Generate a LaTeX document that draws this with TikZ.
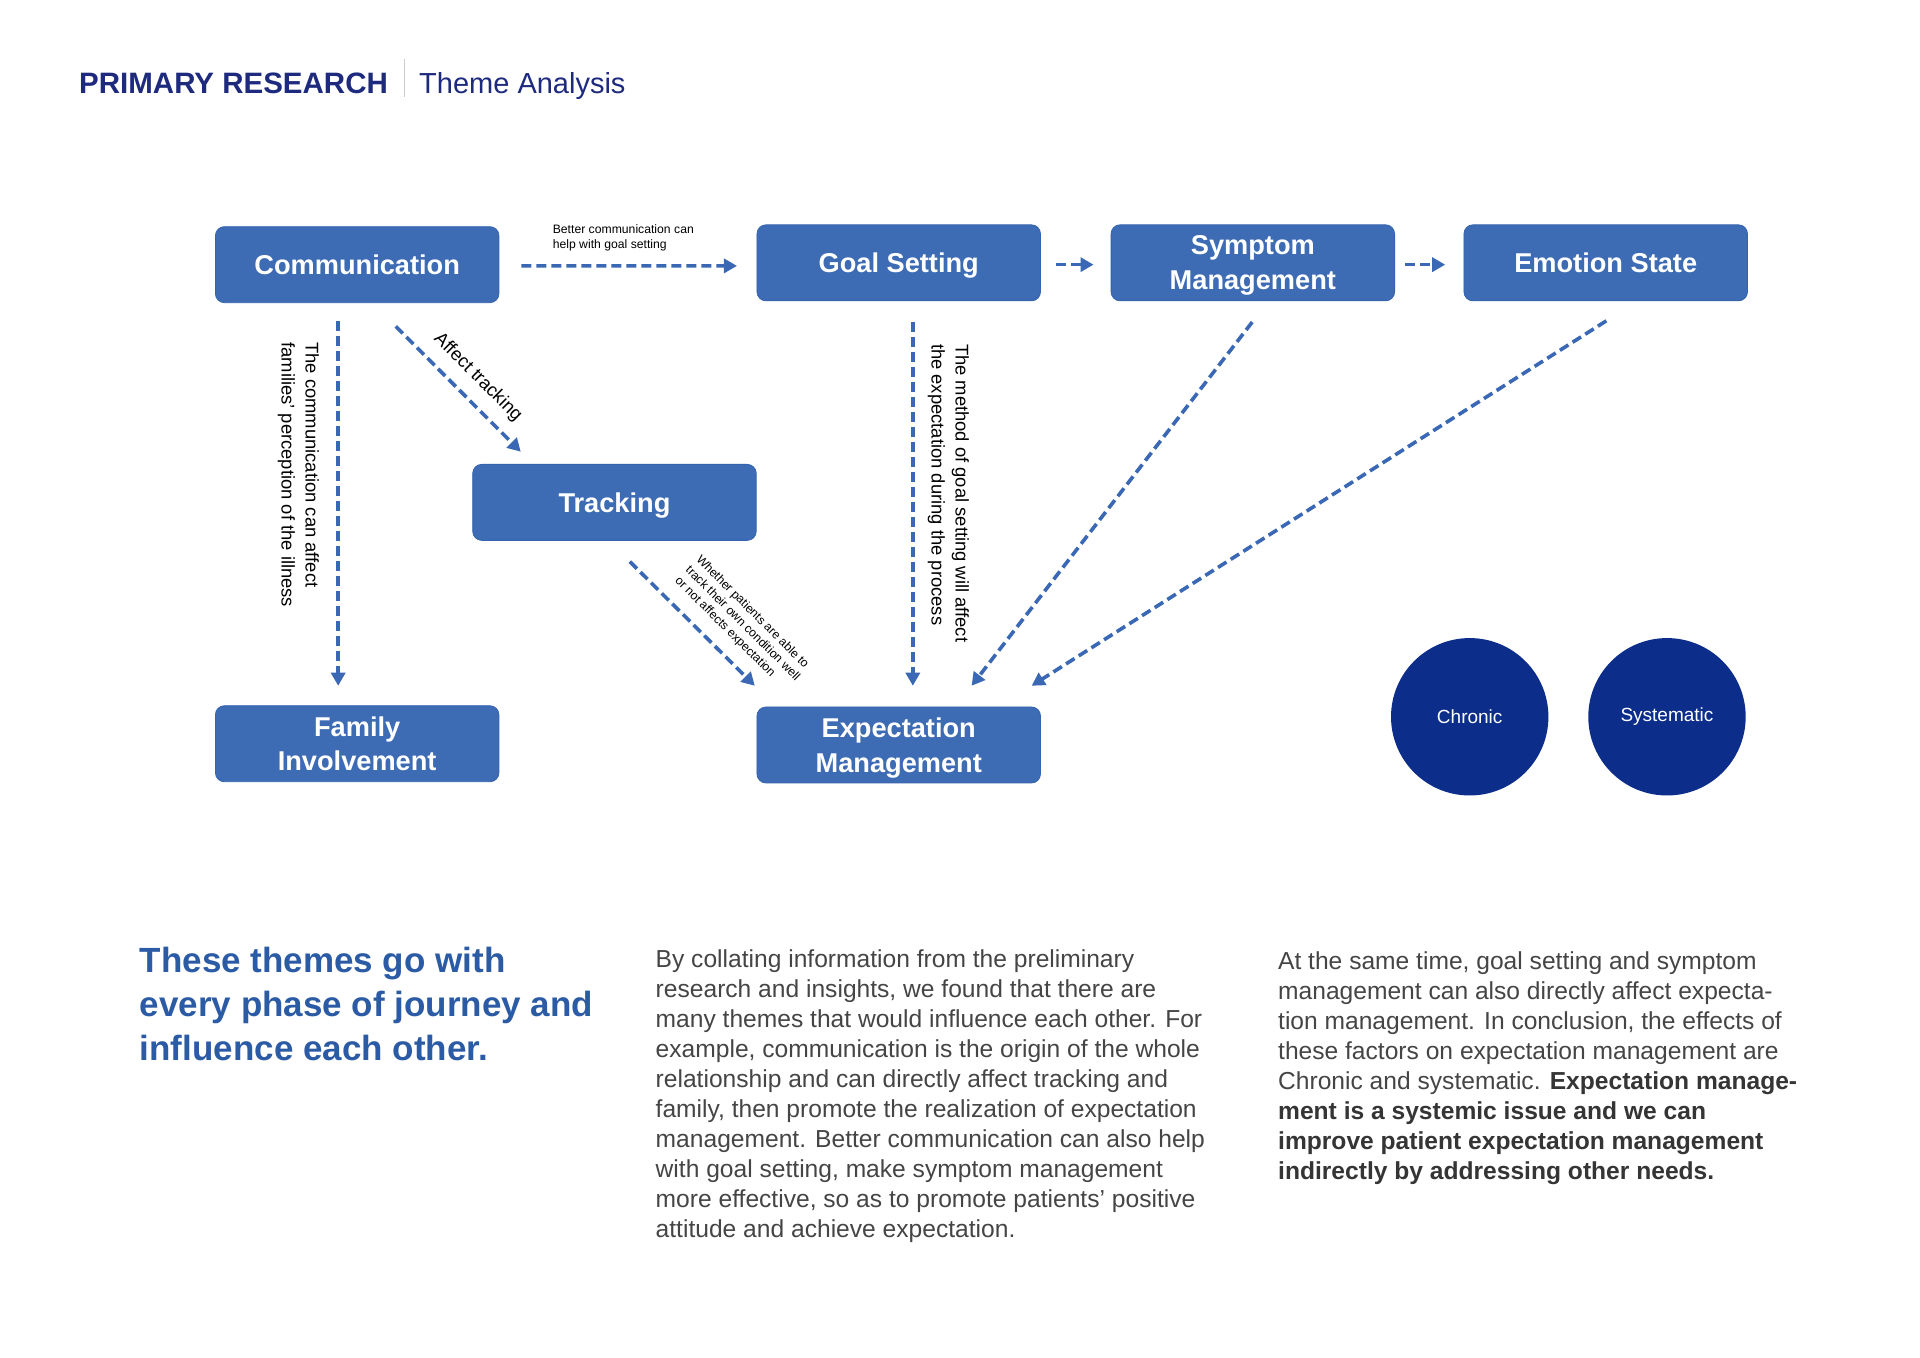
\documentclass[tikz,border=0pt]{standalone}
\usepackage{fontspec}
\setmainfont{Liberation Sans}
\usetikzlibrary{arrows.meta,calc}
\definecolor{boxblue}{HTML}{3D6CB5}
\definecolor{boxedge}{HTML}{3563AE}
\definecolor{arrblue}{HTML}{3A68B4}
\definecolor{navy}{HTML}{0C2D8A}
\definecolor{titlenavy}{HTML}{1D2A7E}
\definecolor{headblue}{HTML}{2C5BA6}
\definecolor{bodygray}{HTML}{454545}
\definecolor{boldgray}{HTML}{353535}
\tikzset{
  theme/.style={rectangle, rounded corners=9pt, fill=boxblue, draw=boxedge, line width=0.8pt,
    minimum width=283.5pt, minimum height=76pt, inner sep=2pt, align=center, text=white,
    text depth=0pt, font=\fontsize{27.2}{34.7}\selectfont\bfseries},
  arr/.style={draw=arrblue, line width=3.6pt, dash pattern=on 10pt off 5pt,
    -{Triangle[length=13pt,width=14pt]}},
  lab/.style={inner sep=0pt, align=left, text=black, font=\fontsize{18.4}{24}\selectfont},
  smalllab/.style={inner sep=0pt, align=left, text=black, font=\fontsize{12.2}{15}\selectfont},
  circ/.style={circle, fill=navy, minimum size=157.4pt, inner sep=0pt, text=white,
    font=\fontsize{19}{22}\selectfont},
  para/.style={inner sep=0pt, anchor=north west, align=left, text=bodygray,
    font=\fontsize{24.6}{30}\selectfont}
}
\begin{document}
\begin{tikzpicture}[x=1.2253pt,y=-1.2253pt]
\useasboundingbox[fill=white] (0,0) rectangle (1567,1108.3);

% title
\node[anchor=base west, inner sep=0pt, text=titlenavy, font=\fontsize{29.5}{34}\selectfont\bfseries] (t1) at (64.5,76.5) {PRIMARY RESEARCH};
\draw[black!20, line width=1pt] (330,48) -- (330,79);
\node[anchor=base west, inner sep=0pt, text=titlenavy, font=\fontsize{29}{34}\selectfont] (t2) at (342,76.5) {Theme Analysis};

% theme boxes
\node[theme] (comm) at (291.5,216) {Communication};
\node[theme] (goal) at (733.5,214.5) {Goal Setting};
\node[theme] (symp) at (1022.5,214.5) {Symptom\\Management};
\node[theme] (emo)  at (1310.5,214.5) {Emotion State};
\node[theme] (track) at (501.5,410) {Tracking};
\node[theme] (fam) at (291.5,607) {Family\\Involvement};
\node[theme] (expm) at (733.5,608) {Expectation\\Management};

% circles
\node[circ] (chron) at (1199.5,585) {Chronic};
\node[circ] (syst) at (1360.5,585) {Systematic};

% connectors
\draw[arr] ($(comm.east)+(18,1)$) -- ($(goal.west)+(-16,2.5)$);
\draw[arr] ($(goal.east)+(12,1.5)$) -- ($(symp.west)+(-14,1.5)$);
\draw[arr] ($(symp.east)+(8,1.5)$) -- ($(emo.west)+(-15,1.5)$);
\draw[arr] ($(comm.south)+(-15.5,15)$) -- ($(fam.north)+(-15.5,-16)$);
\draw[arr] ($(comm.south)+(31.5,19)$) -- ($(track.north)+(-76.5,-10)$);
\draw[arr] ($(track.south)+(12.5,17)$) -- ($(expm.north)+(-117.5,-17)$);
\draw[arr] ($(goal.south)+(11.5,17)$) -- ($(expm.north)+(11.5,-17)$);
\draw[arr] ($(symp.south)+(-0.5,17)$) -- ($(expm.north)+(59.5,-17)$);
\draw[arr] ($(emo.south)+(0.5,16)$) -- ($(expm.north)+(108.5,-17)$);

% connector labels
\node[smalllab, anchor=north west] (lblgoal) at (451,183) {Better communication can\\help with goal setting};
\node[lab, rotate=-90] (lblfam) at (243.5,387.5) {The communication can affect\\families' perception of the illness};
\node[lab, rotate=-90] (lblgs) at (774,402.5) {The method of goal setting will affect\\the expectation during the process};
\node[lab, rotate=-45] (lbltrack) at (390,308) {Affect tracking};
\node[smalllab, rotate=-45] (lblexp) at (606,509) {Whether patients are able to\\track their own condition well\\or not affects expectation};

% bottom texts
\node[inner sep=0pt, anchor=north west, align=left, text=headblue,
  font=\fontsize{35}{44}\selectfont\bfseries] (head) at (114,773)
  {These themes go with\\every phase of journey and\\influence each other.};
\node[para] (p2) at (535,774.5)
  {By collating information from the preliminary\\
   research and insights, we found that there are\\
   many themes that would influence each other. For\\
   example, communication is the origin of the whole\\
   relationship and can directly affect tracking and\\
   family, then promote the realization of expectation\\
   management. Better communication can also help\\
   with goal setting, make symptom management\\
   more effective, so as to promote patients' positive\\
   attitude and achieve expectation.};
\node[para] (p3) at (1043,776.5)
  {At the same time, goal setting and symptom\\
   management can also directly affect expecta-\\
   tion management. In conclusion, the effects of\\
   these factors on expectation management are\\
   Chronic and systematic. {\color{boldgray}\bfseries Expectation manage-}\\
   {\color{boldgray}\bfseries ment is a systemic issue and we can}\\
   {\color{boldgray}\bfseries improve patient expectation management}\\
   {\color{boldgray}\bfseries indirectly by addressing other needs.}};
\end{tikzpicture}
\end{document}
